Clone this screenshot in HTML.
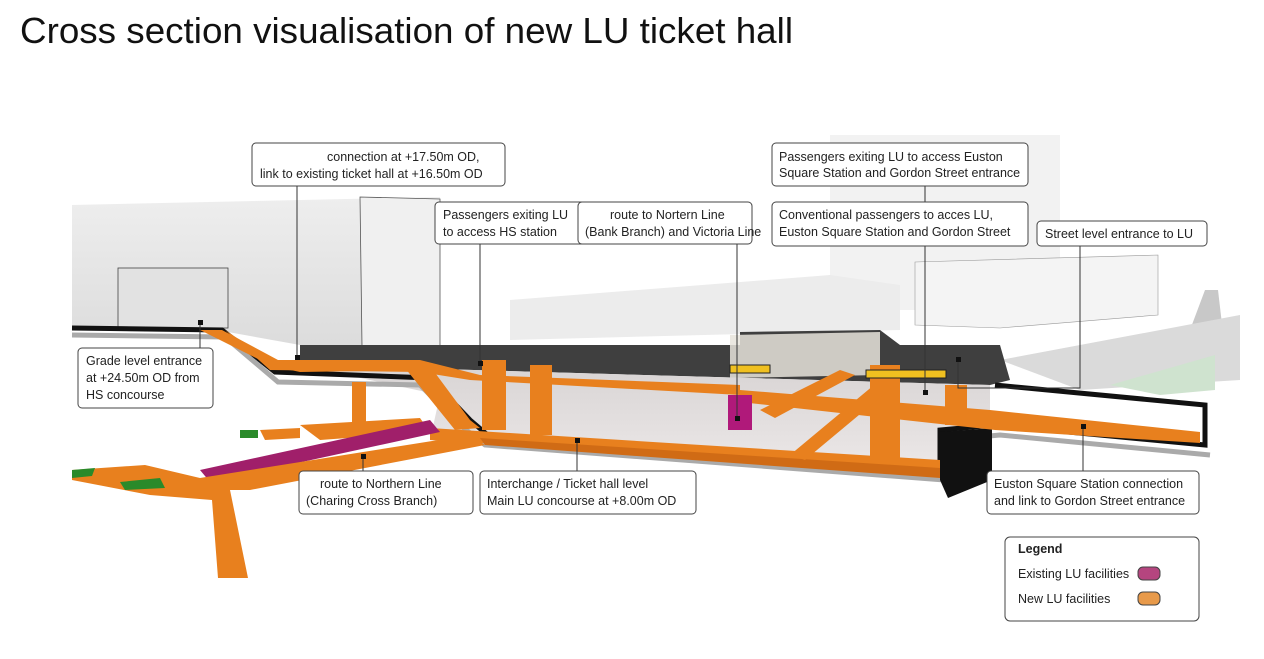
<!DOCTYPE html>
<html><head><meta charset="utf-8"><style>
body{margin:0;background:#fff;}
svg{display:block;font-family:"Liberation Sans",sans-serif;}
.l{font-size:12.5px;fill:#222;}
</style></head><body>
<svg width="1264" height="659" viewBox="0 0 1264 659" xmlns="http://www.w3.org/2000/svg">
<defs>
<linearGradient id="bld" x1="0" y1="0" x2="0" y2="1"><stop offset="0" stop-color="#eeeeee"/><stop offset="1" stop-color="#dcdcdc"/></linearGradient>
<linearGradient id="ugr" x1="0" y1="0" x2="0" y2="1"><stop offset="0" stop-color="#d8d4d4"/><stop offset="1" stop-color="#ece8e8"/></linearGradient>
</defs>
<text x="20" y="43" font-size="36.5" fill="#111" textLength="773" lengthAdjust="spacingAndGlyphs">Cross section visualisation of new LU ticket hall</text>
<!-- background buildings -->
<rect x="830" y="135" width="230" height="175" fill="#f2f2f2"/>
<polygon points="510,300 830,275 900,285 900,330 510,340" fill="#ececec"/>
<polygon points="915,262 1158,255 1158,315 1000,328 915,325" fill="#f4f4f4" stroke="#999" stroke-width="0.6"/>
<polygon points="1190,330 1205,290 1218,290 1225,350 1200,360" fill="#c8c8c8"/>
<polygon points="1000,360 1240,315 1240,380 1080,390" fill="#dadada"/>
<polygon points="1110,385 1215,355 1215,390 1160,395" fill="#cfe3cf"/>
<!-- left building -->
<polygon points="72,205 440,197 440,345 300,345 228,332 72,330" fill="url(#bld)"/>
<polygon points="360,197 440,199 440,346 362,346" fill="#f0f0f0" stroke="#555" stroke-width="0.8"/>
<rect x="118" y="268" width="110" height="60" fill="#e2e2e2" stroke="#444" stroke-width="0.8"/>
<!-- dark slab -->
<polygon points="300,345 740,345 740,332 880,330 900,345 1000,345 1010,380 990,385 300,365" fill="#3f3f3f"/>
<polygon points="730,335 880,332 880,375 730,378" fill="#e8e4dc" opacity="0.85"/>
<!-- underground volume -->
<polygon points="300,365 990,385 990,425 940,430 940,470 430,440 440,395" fill="url(#ugr)"/>
<!-- outline -->
<polyline points="72,328 222,330 275,372 430,378 470,420 490,437 940,470 940,430 995,425 1205,445 1205,405 995,385" fill="none" stroke="#111" stroke-width="5"/>
<polyline points="72,335 225,337 278,382 420,385 460,425 485,445 945,480 945,440 1000,435 1210,455" fill="none" stroke="#aaa" stroke-width="5"/>
<polygon points="940,432 992,428 992,480 948,498 940,480" fill="#111"/>
<!-- orange levels -->
<polygon points="200,330 222,330 278,360 420,362 430,370 300,372 272,366" fill="#e8801e"/>
<polygon points="225,330 270,360 420,360 480,375 740,385 740,395 470,380 420,372 270,370" fill="#e8801e"/>
<polygon points="405,368 430,366 470,420 480,428 455,430" fill="#e8801e"/>
<polygon points="430,428 940,460 940,470 430,440" fill="#e8801e"/>
<polygon points="480,438 940,468 940,478 485,445" fill="#d06b15"/>
<polygon points="740,390 990,410 1200,432 1200,443 995,430 740,402" fill="#e8801e"/>
<rect x="482" y="360" width="24" height="70" fill="#e8801e"/>
<rect x="530" y="365" width="22" height="70" fill="#e8801e"/>
<rect x="870" y="365" width="30" height="95" fill="#e8801e"/>
<rect x="945" y="385" width="22" height="40" fill="#e8801e"/>
<polygon points="790,455 880,380 895,385 805,460" fill="#e8801e"/>
<polygon points="760,410 840,370 855,375 775,418" fill="#e8801e"/>
<polygon points="728,395 752,395 752,430 728,430" fill="#b0197a"/>
<rect x="730" y="365" width="40" height="8" fill="#f0c020" stroke="#222" stroke-width="1"/>
<rect x="866" y="370" width="80" height="8" fill="#f0c020" stroke="#222" stroke-width="1"/>
<!-- lower branches -->
<rect x="352" y="382" width="14" height="45" fill="#e8801e"/>
<polygon points="300,425 420,418 430,432 320,440" fill="#e8801e"/>
<polygon points="200,470 430,420 440,432 210,482" fill="#a01f6a"/>
<polygon points="72,470 145,465 200,478 470,435 485,445 250,490 230,490 248,578 218,578 212,500 150,495 72,480" fill="#e8801e"/>
<polygon points="260,430 300,428 300,438 265,440" fill="#e8801e"/>
<polygon points="72,470 95,468 92,476 72,478" fill="#2a8a2a"/>
<polygon points="120,482 160,478 165,488 125,490" fill="#2a8a2a"/>
<polygon points="240,430 258,430 258,438 240,438" fill="#2a8a2a"/>
<!-- leader lines -->
<g stroke="#333" stroke-width="1" fill="none">
<line x1="297" y1="186" x2="297" y2="357"/>
<line x1="480" y1="244" x2="480" y2="363"/>
<line x1="737" y1="244" x2="737" y2="418"/>
<line x1="925" y1="186" x2="925" y2="202"/>
<line x1="925" y1="246" x2="925" y2="392"/>
<polyline points="1080,246 1080,388 958,388 958,360"/>
<line x1="200" y1="348" x2="200" y2="322"/>
<line x1="363" y1="471" x2="363" y2="456"/>
<line x1="577" y1="471" x2="577" y2="440"/>
<line x1="1083" y1="471" x2="1083" y2="426"/>
</g>
<g fill="#111">
<rect x="295" y="355" width="5" height="5"/><rect x="478" y="361" width="5" height="5"/><rect x="735" y="416" width="5" height="5"/>
<rect x="923" y="390" width="5" height="5"/><rect x="956" y="357" width="5" height="5"/><rect x="198" y="320" width="5" height="5"/>
<rect x="361" y="454" width="5" height="5"/><rect x="575" y="438" width="5" height="5"/><rect x="1081" y="424" width="5" height="5"/>
</g>
<!-- label boxes -->
<g fill="#fff" stroke="#444" stroke-width="1">
<rect x="252" y="143" width="253" height="43" rx="4"/>
<rect x="435" y="202" width="151" height="42" rx="4"/>
<rect x="578" y="202" width="174" height="42" rx="4"/>
<rect x="772" y="143" width="256" height="43" rx="4"/>
<rect x="772" y="202" width="256" height="44" rx="4"/>
<rect x="1037" y="221" width="170" height="25" rx="4"/>
<rect x="78" y="348" width="135" height="60" rx="4"/>
<rect x="299" y="471" width="174" height="43" rx="4"/>
<rect x="480" y="471" width="216" height="43" rx="4"/>
<rect x="987" y="471" width="212" height="43" rx="4"/>
<rect x="1005" y="537" width="194" height="84" rx="5"/>
</g>
<g class="l">
<text x="327" y="161">connection at +17.50m OD,</text>
<text x="260" y="178">link to existing ticket hall at +16.50m OD</text>
<text x="443" y="219">Passengers exiting LU</text>
<text x="443" y="236">to access HS station</text>
<text x="610" y="219">route to Nortern Line</text>
<text x="585" y="236">(Bank Branch) and Victoria Line</text>
<text x="779" y="161">Passengers exiting LU to access Euston</text>
<text x="779" y="177">Square Station and Gordon Street entrance</text>
<text x="779" y="219">Conventional passengers to acces LU,</text>
<text x="779" y="236">Euston Square Station and Gordon Street</text>
<text x="1045" y="238">Street level entrance to LU</text>
<text x="86" y="365">Grade level entrance</text>
<text x="86" y="382">at +24.50m OD from</text>
<text x="86" y="399">HS concourse</text>
<text x="320" y="488">route to Northern Line</text>
<text x="306" y="505">(Charing Cross Branch)</text>
<text x="487" y="488">Interchange / Ticket hall level</text>
<text x="487" y="505">Main LU concourse at +8.00m OD</text>
<text x="994" y="488">Euston Square Station connection</text>
<text x="994" y="505">and link to Gordon Street entrance</text>
<text x="1018" y="553" font-weight="bold">Legend</text>
<text x="1018" y="578">Existing LU facilities</text>
<text x="1018" y="603">New LU facilities</text>
</g>
<rect x="1138" y="567" width="22" height="13" rx="5" fill="#b5457f" stroke="#444"/>
<rect x="1138" y="592" width="22" height="13" rx="5" fill="#e89a4a" stroke="#444"/>
</svg>
</body></html>
